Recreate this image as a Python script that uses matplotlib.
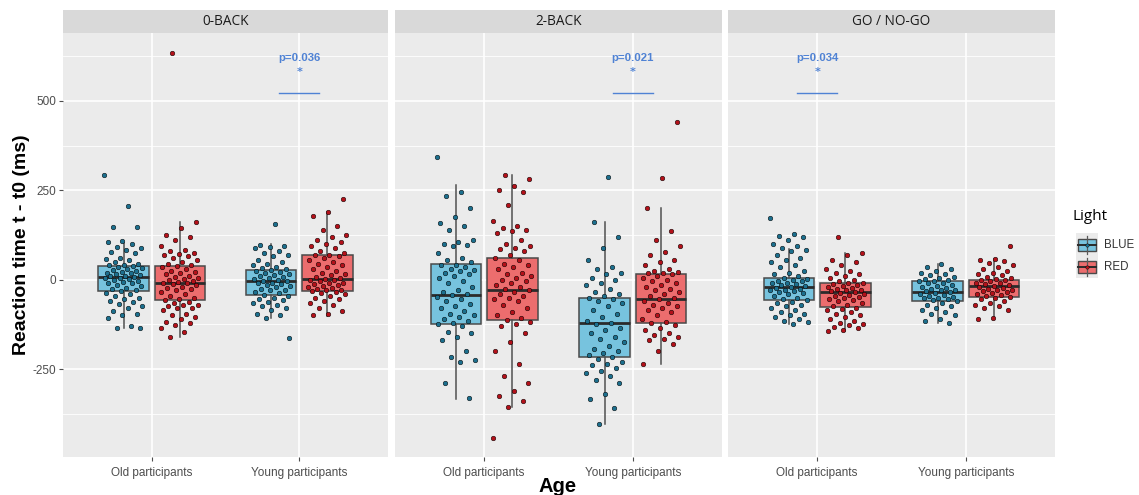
import matplotlib
matplotlib.use("Agg")
import matplotlib.pyplot as plt
from matplotlib.patches import Rectangle
from matplotlib.lines import Line2D

# ---- data ----
tasks = ["0-BACK", "2-BACK", "GO / NO-GO"]
ages = ["Old participants", "Young participants"]
lights = ["BLUE", "RED"]

# box stats per task: [whislo, q1, median, q3, whishi] for Old-BLUE, Old-RED, Young-BLUE, Young-RED
zero_back_stats = [[-134, -33, 8, 38, 103], [-160, -56, -8, 38, 162],
                   [-106, -44, -5, 28, 101], [-102, -33, 1, 69, 190]]
two_back_stats = [[-333, -123, -44, 45, 264], [-356, -114, -28, 62, 292],
                  [-405, -216, -121, -50, 162], [-237, -120, -53, 17, 201]]
gonogo_stats = [[-125, -56, -20, 4, 85], [-144, -76, -35, -9, 74],
                [-121, -59, -35, -4, 45], [-111, -48, -18, 0, 57]]

# individual reaction times (ms)
zero_old_blue = [294, 207, 148, 148, 108, 105, 100, 92, 88, 82, 78, 75, 62, 58, 55, 50, 45, 42, 40, 38,
                 36, 34, 30, 28, 25, 22, 20, 18, 15, 12, 10, 9, 8, 6, 4, 2, 0, -3, -6, -8, -10, -14,
                 -18, -22, -26, -30, -33, -36, -40, -45, -50, -55, -60, -62, -68, -75, -80, -88, -95,
                 -100, -108, -130, -135, -135]
zero_old_red = [634, 162, 145, 125, 120, 110, 95, 82, 80, 75, 72, 70, 65, 60, 55, 50, 45, 40, 38, 35,
                30, 25, 22, 20, 15, 10, 8, 5, 2, 0, -3, -6, -8, -10, -12, -15, -20, -22, -25, -30, -35,
                -40, -45, -50, -55, -58, -62, -66, -70, -72, -75, -78, -80, -85, -95, -100, -105, -110,
                -118, -122, -128, -135, -145, -160]
zero_young_blue = [157, 98, 95, 92, 88, 80, 75, 70, 65, 55, 50, 45, 40, 35, 32, 30, 28, 25, 22, 20, 15,
                   12, 10, 8, 5, 2, 0, -3, -5, -8, -10, -12, -15, -18, -20, -25, -28, -30, -35, -38,
                   -42, -45, -50, -55, -58, -62, -65, -70, -75, -80, -85, -95, -100, -106, -164]
zero_young_red = [225, 190, 178, 150, 140, 125, 120, 110, 105, 100, 95, 90, 80, 75, 70, 68, 65, 60, 55,
                  50, 45, 40, 35, 30, 25, 20, 15, 12, 8, 5, 2, 0, -2, -5, -8, -10, -12, -15, -18, -20,
                  -22, -25, -28, -30, -32, -35, -38, -40, -45, -50, -55, -60, -65, -70, -80, -88, -95, -100]

two_old_blue = [343, 245, 235, 200, 175, 158, 150, 140, 110, 105, 100, 98, 95, 75, 62, 55, 50, 42, 40,
                35, 30, 28, 25, 20, 15, 10, 5, -5, -10, -20, -28, -35, -40, -44, -48, -55, -60, -68,
                -75, -80, -88, -95, -100, -105, -110, -115, -120, -125, -130, -145, -150, -160, -170,
                -200, -215, -225, -230, -290, -330]
two_old_red = [292, 282, 262, 250, 245, 210, 165, 150, 145, 140, 135, 130, 110, 100, 95, 90, 85, 80, 70,
               62, 55, 45, 40, 35, 30, 20, 15, 10, 5, 0, -5, -10, -15, -20, -25, -30, -35, -40, -45,
               -50, -55, -60, -70, -80, -90, -100, -108, -112, -118, -125, -130, -150, -175, -200,
               -235, -270, -290, -310, -325, -340, -356, -442]
two_young_blue = [288, 162, 120, 88, 55, 35, 30, 20, 15, 5, 0, -10, -15, -25, -35, -40, -45, -50, -55,
                  -60, -65, -75, -85, -95, -105, -115, -120, -125, -135, -140, -150, -160, -165, -175,
                  -185, -195, -200, -205, -210, -215, -222, -230, -235, -240, -248, -255, -260, -270,
                  -280, -290, -320, -335, -360, -405]
two_young_red = [442, 284, 201, 135, 110, 95, 78, 70, 55, 50, 40, 30, 25, 22, 20, 18, 15, 10, 5, 0, -5,
                 -10, -15, -20, -25, -30, -35, -40, -45, -50, -55, -60, -65, -70, -75, -80, -85, -90,
                 -100, -110, -118, -122, -128, -135, -140, -150, -155, -160, -165, -170, -180, -200, -237]

gng_old_blue = [172, 128, 122, 118, 112, 100, 95, 88, 82, 80, 70, 60, 55, 50, 40, 35, 25, 20, 15, 10,
                5, 2, 0, -3, -5, -8, -10, -12, -15, -18, -20, -22, -25, -28, -30, -32, -35, -38, -40,
                -45, -50, -55, -58, -62, -65, -70, -75, -80, -85, -90, -95, -100, -105, -110, -115,
                -118, -125]
gng_old_red = [118, 74, 70, 55, 50, 40, 30, 25, 20, 15, 10, 5, 0, -5, -8, -10, -12, -15, -18, -20, -22,
               -25, -28, -30, -32, -35, -38, -40, -42, -45, -48, -50, -55, -58, -60, -65, -70, -75, -78,
               -82, -85, -90, -95, -100, -105, -110, -115, -120, -125, -128, -132, -135, -140, -144]
gng_young_blue = [45, 35, 30, 25, 20, 15, 12, 8, 5, 2, 0, -3, -5, -8, -10, -15, -18, -20, -22, -25, -28,
                  -30, -32, -35, -38, -40, -42, -45, -48, -50, -52, -55, -58, -60, -65, -70, -75, -80,
                  -85, -90, -95, -100, -110, -115, -121]
gng_young_red = [93, 57, 55, 52, 48, 40, 35, 30, 25, 20, 15, 12, 8, 5, 2, 0, -2, -5, -8, -10, -12, -15,
                 -18, -20, -22, -25, -28, -30, -32, -35, -38, -40, -42, -45, -48, -50, -55, -60, -65,
                 -70, -75, -80, -85, -108, -111]

# significance labels: (age index, p text) per task
sig_ages = [1, 1, 0]
sig_labels = ["p=0.036", "p=0.021", "p=0.034"]
sig_line_y = 522
sig_star_y = 582
sig_text_y = 620

stats_by_task = [zero_back_stats, two_back_stats, gonogo_stats]
points_by_task = [
    [zero_old_blue, zero_old_red, zero_young_blue, zero_young_red],
    [two_old_blue, two_old_red, two_young_blue, two_young_red],
    [gng_old_blue, gng_old_red, gng_young_blue, gng_young_red],
]

# ---- styling ----
W, H = 1139, 495
box_fill = {"BLUE": "#77C3DE", "RED": "#EC6D6E"}
pt_fill = {"BLUE": "#1C6F8E", "RED": "#B3111A"}
panel_bg = "#EBEBEB"
strip_bg = "#D9D9D9"
tick_col = "#4D4D4D"
sig_col = "#4F82D4"

fig = plt.figure(figsize=(W / 100, H / 100), dpi=100)


def px_axes(x0, y0, x1, y1):
    return fig.add_axes([x0 / W, 1 - y1 / H, (x1 - x0) / W, (y1 - y0) / H])


panels = [(63, 388), (395, 722), (728, 1055)]
top, bottom, strip_top = 33, 457, 10
ylim = (-496, 690)
dodge = 0.19
bw = 0.34
jit = 0.13

for k, (x0, x1) in enumerate(panels):
    ax = px_axes(x0, top, x1, bottom)
    ax.set_facecolor(panel_bg)
    ax.set_xlim(0.4, 2.6)
    ax.set_ylim(*ylim)
    ax.set_yticks([-250, 0, 250, 500])
    ax.set_yticks([-375, -125, 125, 375, 625], minor=True)
    ax.set_xticks([1, 2])
    ax.set_xticks([1.5], minor=True)
    ax.grid(True, which="major", color="white", lw=1.2)
    ax.grid(True, which="minor", axis="y", color="white", lw=0.6)
    ax.set_axisbelow(True)
    for s in ax.spines.values():
        s.set_visible(False)
    ax.tick_params(which="minor", length=0)
    ax.tick_params(axis="x", length=3, color=tick_col, labelcolor=tick_col, labelsize=8.5, pad=4)
    ax.set_xticklabels(ages, fontfamily="Liberation Sans")
    if k == 0:
        ax.tick_params(axis="y", length=3, color=tick_col, labelcolor=tick_col, labelsize=8.5, pad=2)
        ax.set_yticklabels(["-250", "0", "250", "500"], fontfamily="Liberation Sans")
    else:
        ax.tick_params(axis="y", length=0, labelleft=False)

    stats = stats_by_task[k]
    pts = points_by_task[k]
    for g in range(4):
        age_i, light = g // 2, lights[g % 2]
        xc = age_i + 1 + (dodge if light == "RED" else -dodge)
        lo, q1, med, q3, hi = stats[g]
        ax.bxp([{"whislo": lo, "q1": q1, "med": med, "q3": q3, "whishi": hi, "fliers": []}],
               positions=[xc], widths=bw, patch_artist=True, showfliers=False, showcaps=False,
               boxprops=dict(facecolor=box_fill[light], edgecolor="#4A4A4A", lw=1.1),
               medianprops=dict(color="#2B2B2B", lw=2),
               whiskerprops=dict(color="#505050", lw=1.1), manage_ticks=False)
        vals = pts[g]
        xs = [xc + ((i * 0.618034 + 0.3 * g) % 1 - 0.5) * 2 * jit for i in range(len(vals))]
        ax.scatter(xs, vals, s=11, color=pt_fill[light], edgecolor="black", lw=0.35, zorder=5)

    # significance bracket
    xa = sig_ages[k] + 1
    ax.plot([xa - 0.135, xa + 0.135], [sig_line_y, sig_line_y], color=sig_col, lw=1)
    ax.text(xa, sig_star_y, "*", color=sig_col, ha="center", va="center", fontsize=8, fontweight="bold")
    ax.text(xa, sig_text_y, sig_labels[k], color=sig_col, ha="center", va="center",
            fontsize=8.2, fontweight="bold", fontfamily="Liberation Sans")

    # facet strip
    sax = px_axes(x0, strip_top, x1, top)
    sax.set_facecolor(strip_bg)
    sax.set_xticks([])
    sax.set_yticks([])
    for s in sax.spines.values():
        s.set_visible(False)
    sax.text(0.5, 0.5, tasks[k], ha="center", va="center", fontsize=9.8, color="#1A1A1A",
             fontfamily="Open Sans", transform=sax.transAxes)

# axis titles
fig.text(22 / W, 1 - 245 / H, "Reaction time t - t0 (ms)", rotation=90, ha="center", va="center",
         fontsize=14, fontweight="bold", fontfamily="Liberation Sans")
fig.text(558 / W, 1 - 486 / H, "Age", ha="center", va="center", fontsize=14.5,
         fontweight="bold", fontfamily="Liberation Sans")

# legend
lax = px_axes(1060, 200, 1139, 290)
lax.set_xlim(1060, 1139)
lax.set_ylim(290, 200)
lax.axis("off")
lax.text(1073, 216, "Light", fontsize=11, fontfamily="Open Sans", va="center", ha="left")
lax.add_patch(Rectangle((1076, 233), 22, 45, facecolor="#EBEBEB", edgecolor="none"))
for j, light in enumerate(lights):
    yc = 245 + 21.5 * j
    lax.add_line(Line2D([1087, 1087], [yc - 9, yc + 9], color="#5A5A5A", lw=0.9))
    lax.add_patch(Rectangle((1078, yc - 6), 18, 12, facecolor=box_fill[light], edgecolor="#4A4A4A", lw=1))
    lax.add_line(Line2D([1078, 1096], [yc, yc], color="#2B2B2B", lw=1.4))
    lax.scatter([1087], [yc], s=6, color=pt_fill[light], edgecolor="black", lw=0.3, zorder=5)
    lax.text(1104, yc, light, fontsize=8.3, color="#333333", va="center", ha="left",
             fontfamily="Liberation Sans")

fig.savefig("out.png", dpi=100)
